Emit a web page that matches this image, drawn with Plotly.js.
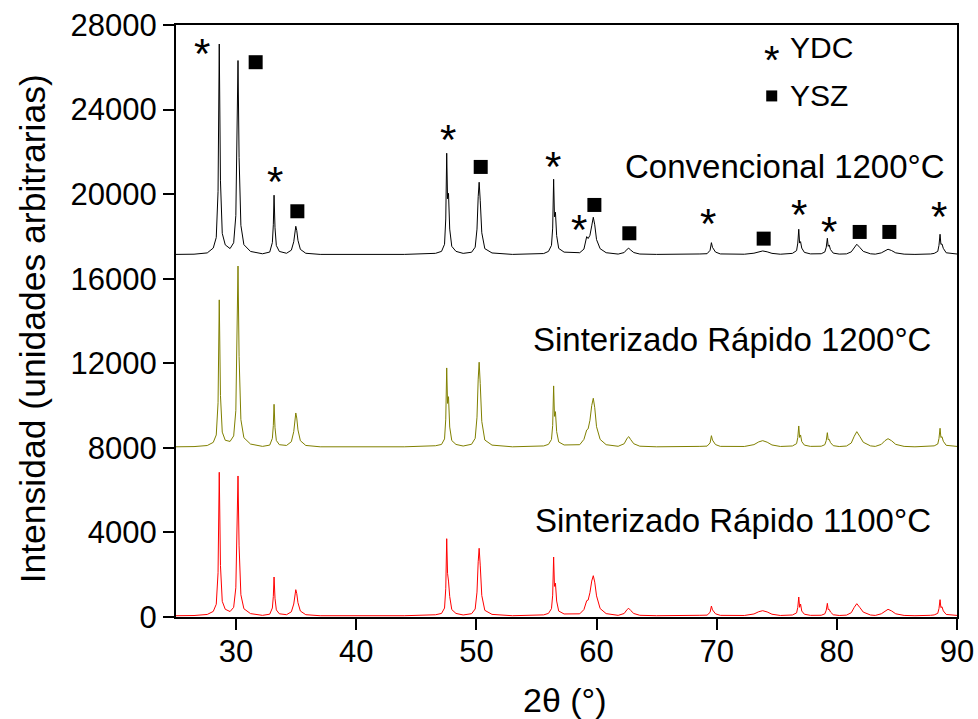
<!DOCTYPE html>
<html>
<head>
<meta charset="utf-8">
<script src="https://cdn.plot.ly/plotly-3.0.1.min.js"></script>
<style>html,body{margin:0;padding:0;background:#fff}#chart{width:978px;height:719px}</style>
</head>
<body>
<div id="chart"></div>
<script>
// 2θ grid (degrees), grouped by peak
const twoTheta = [
  25, 26.5, 27.6,
  28.1, 28.35, 28.5, 28.6, 28.7, 28.85, 29.1,
  29.5, 29.8, 29.98, 30.08, 30.16, 30.25, 30.4, 30.65, 31.2,
  32.2, 32.8, 33.02, 33.1, 33.16, 33.24, 33.35, 33.6,
  34.2, 34.6, 34.8, 34.9, 34.97, 35.05, 35.15, 35.35, 35.8,
  37, 40, 44, 46.6,
  47.1, 47.35, 47.45, 47.53, 47.6, 47.68, 47.78, 47.95, 48.3, 48.9,
  49.6, 49.9, 50.05, 50.15, 50.23, 50.32, 50.45, 50.7, 51.3,
  53, 55.6,
  56.0, 56.25, 56.35, 56.43, 56.5, 56.58, 56.68, 56.85, 57.3,
  58.6, 58.95, 59.1, 59.18, 59.3, 59.45, 59.6, 59.73, 59.85, 60.0, 60.3, 60.8,
  61.8, 62.3, 62.55, 62.68, 62.85, 63.1, 63.6,
  65, 68.6,
  69.2, 69.45, 69.56, 69.65, 69.75, 69.9, 70.3,
  72.3, 73.1, 73.5, 73.83, 74.2, 74.6, 75.3,
  76.3, 76.65, 76.75, 76.83, 76.9, 76.98, 77.08, 77.3, 77.8,
  78.7, 79.0, 79.12, 79.21, 79.28, 79.36, 79.47, 79.7, 80.2,
  80.8, 81.2, 81.45, 81.66, 81.9, 82.2, 82.8,
  83.2, 83.7, 84.0, 84.26, 84.55, 84.9, 85.6,
  86.5, 87.8,
  88.1, 88.4, 88.5, 88.59, 88.66, 88.75, 88.86, 89.1, 89.6, 90
];

// Convencional 1200°C (offset pattern)
const convencional1200 = [
  17150, 17160, 17220,
  17450, 17950, 20135, 27100, 20630, 18145, 17600,
  17425, 17700, 18985, 22195, 26320, 21735, 18525, 17610, 17290,
  17180, 17260, 17710, 18550, 19950, 18410, 17570, 17290,
  17203, 17350, 17749, 18214, 18480, 18281, 17815, 17389, 17203,
  17150, 17140, 17150, 17200,
  17294, 17629, 18825, 21935, 19782, 20040, 18346, 17533, 17294, 17198,
  17252, 17491, 18345, 19880, 20563, 19710, 18174, 17423, 17218,
  17150, 17190,
  17292, 17577, 18394, 20705, 18928, 19144, 18039, 17434, 17257,
  17230, 17400, 17800, 17990, 17900, 18050, 18500, 18907, 18550, 17850, 17420, 17230,
  17165, 17237, 17397, 17440, 17353, 17237, 17167,
  17150, 17170,
  17183, 17344, 17705, 17483, 17400, 17261, 17172,
  17158, 17207, 17280, 17313, 17272, 17199, 17158,
  17198, 17329, 17686, 18340, 17686, 17754, 17448, 17245, 17174,
  17181, 17265, 17494, 17914, 17532, 17597, 17379, 17211, 17165,
  17174, 17270, 17486, 17630, 17486, 17294, 17179,
  17162, 17223, 17333, 17394, 17333, 17223, 17162,
  17150, 17170,
  17198, 17293, 17579, 18103, 17627, 17644, 17436, 17226, 17179, 17169
];

// Sinterizado Rápido 1200°C (offset pattern)
const rapido1200 = [
  8050, 8060, 8110,
  8260, 8610, 10135, 15000, 10480, 8745, 8360,
  8305, 8565, 9760, 12755, 16600, 12325, 9335, 8480, 8180,
  8070, 8130, 8450, 9055, 10060, 8955, 8350, 8150,
  8114, 8290, 8770, 9330, 9650, 9410, 8850, 8338, 8114,
  8050, 8045, 8050, 8100,
  8162, 8423, 9356, 11780, 10102, 10420, 8983, 8348, 8162, 8087,
  8170, 8450, 9450, 11250, 12050, 11050, 9250, 8370, 8130,
  8050, 8090,
  8165, 8396, 9058, 10930, 9490, 9712, 8770, 8280, 8136,
  8150, 8400, 8700, 8846, 8900, 9300, 10000, 10345, 9900, 9000, 8400, 8150,
  8074, 8194, 8458, 8530, 8386, 8194, 8079,
  8050, 8070,
  8082, 8234, 8576, 8366, 8287, 8155, 8071,
  8065, 8152, 8282, 8340, 8268, 8137, 8065,
  8089, 8198, 8493, 9035, 8493, 8610, 8296, 8129, 8070,
  8077, 8150, 8351, 8718, 8384, 8406, 8250, 8103, 8063,
  8086, 8229, 8551, 8766, 8551, 8265, 8093,
  8069, 8165, 8338, 8434, 8338, 8165, 8069,
  8050, 8070,
  8094, 8181, 8444, 8926, 8488, 8530, 8313, 8120, 8076, 8068
];

// Sinterizado Rápido 1100°C
const rapido1100 = [
  60, 70, 120,
  264, 603, 2095, 6845, 2435, 740, 365,
  258, 457, 1382, 3696, 6670, 3365, 1052, 391, 160,
  78, 133, 426, 975, 1892, 884, 335, 152,
  109, 245, 614, 1046, 1292, 1107, 676, 282, 109,
  60, 55, 60, 105,
  169, 424, 1335, 3704, 2064, 1700, 971, 352, 169, 96,
  156, 379, 1177, 2612, 3250, 2453, 1017, 315, 124,
  60, 100,
  171, 393, 1032, 2838, 1449, 1600, 755, 282, 143,
  150, 350, 650, 771, 800, 1150, 1700, 1954, 1650, 1000, 400, 160,
  78, 165, 358, 410, 305, 165, 81,
  60, 80,
  88, 221, 520, 336, 267, 152, 78,
  72, 143, 250, 298, 239, 131, 72,
  95, 193, 459, 946, 459, 615, 282, 131, 78,
  83, 148, 324, 646, 353, 364, 236, 107, 72,
  88, 202, 459, 630, 459, 231, 94,
  75, 151, 288, 364, 288, 151, 75,
  60, 80,
  98, 174, 402, 820, 440, 487, 288, 121, 83, 75
];

// Phase markers (YDC = *, YSZ = ■)
const ydcX = [27.14, 33.27, 47.6, 56.38, 58.57, 69.3, 76.85, 79.32, 88.48];
const ydcY = [27220, 21145, 23165, 21854, 18907, 19172, 19598, 18812, 19489];
const yszX = [31.63, 35.1, 50.36, 59.82, 62.73, 73.91, 81.9, 84.37];
const yszY = [26240, 19190, 21287, 19489, 18150, 17896, 18212, 18212];

const sampleLabels = ['Convencional 1200°C', 'Sinterizado Rápido 1200°C', 'Sinterizado Rápido 1100°C'];
const labelX = [89.17, 88.0, 88.0];
const labelY = [21300, 13103, 4588];
const xTicks = [30, 40, 50, 60, 70, 80, 90];
const yTicks = [0, 4000, 8000, 12000, 16000, 20000, 24000, 28000];

const FONT = 'Liberation Sans, Arial, sans-serif';

const traces = [
  {x: twoTheta, y: convencional1200, mode: 'lines', line: {color: '#000000', width: 1}},
  {x: twoTheta, y: rapido1200, mode: 'lines', line: {color: '#808000', width: 1}},
  {x: twoTheta, y: rapido1100, mode: 'lines', line: {color: '#ff0000', width: 1}},
  {x: yszX, y: yszY, mode: 'markers', marker: {symbol: 'square', size: 14, color: '#000'}},
  {x: [74.58], y: [24645], mode: 'markers', marker: {symbol: 'square', size: 11, color: '#000'}}
];

const annotations = [];
ydcX.forEach((x, i) => annotations.push({
  x: x, y: ydcY[i], xref: 'x', yref: 'y', text: '*', showarrow: false,
  xanchor: 'center', yanchor: 'middle', yshift: -12,
  font: {family: FONT, size: 42, color: '#000'}
}));
sampleLabels.forEach((t, i) => annotations.push({
  x: labelX[i], y: labelY[i], xref: 'x', yref: 'y', text: t, showarrow: false,
  xanchor: 'right', yanchor: 'middle', font: {family: FONT, size: 33, color: '#000'}
}));
annotations.push({x: 74.58, y: 26930, xref: 'x', yref: 'y', text: '*', showarrow: false,
  xanchor: 'center', yanchor: 'middle', yshift: -12, font: {family: FONT, size: 40, color: '#000'}});
annotations.push({x: 75.94, y: 26930, xref: 'x', yref: 'y', text: 'YDC', showarrow: false,
  xanchor: 'left', yanchor: 'middle', font: {family: FONT, size: 30, color: '#000'}});
annotations.push({x: 75.94, y: 24645, xref: 'x', yref: 'y', text: 'YSZ', showarrow: false,
  xanchor: 'left', yanchor: 'middle', font: {family: FONT, size: 30, color: '#000'}});
annotations.push({x: -0.183, y: 0.486, xref: 'paper', yref: 'paper', text: 'Intensidad (unidades arbitrarias)',
  textangle: -90, showarrow: false, xanchor: 'center', yanchor: 'middle',
  font: {family: FONT, size: 35.5, color: '#000'}});
annotations.push({x: 0.498, y: -0.14, xref: 'paper', yref: 'paper', text: '2θ (°)',
  showarrow: false, xanchor: 'center', yanchor: 'middle',
  font: {family: FONT, size: 34, color: '#000'}});

const layout = {
  width: 978, height: 719,
  margin: {l: 176, r: 21, t: 25, b: 102},
  paper_bgcolor: '#fff', plot_bgcolor: '#fff',
  showlegend: false,
  font: {family: FONT, color: '#000'},
  xaxis: {
    range: [25, 90], tickvals: xTicks, ticktext: xTicks.map(String),
    ticks: 'outside', ticklen: 11, tickwidth: 2, tickcolor: '#000',
    ticklabelstandoff: -5,
    showline: true, linewidth: 2, linecolor: '#000', mirror: true,
    showgrid: false, zeroline: false,
    tickfont: {family: FONT, size: 31, color: '#000'}
  },
  yaxis: {
    range: [0, 28000], tickvals: yTicks, ticktext: yTicks.map(String),
    ticks: 'outside', ticklen: 11, tickwidth: 2, tickcolor: '#000',
    showline: true, linewidth: 2, linecolor: '#000', mirror: true,
    showgrid: false, zeroline: false,
    tickfont: {family: FONT, size: 31, color: '#000'}
  },
  annotations: annotations
};

Plotly.newPlot('chart', traces, layout, {displayModeBar: false, staticPlot: true});
</script>
</body>
</html>
